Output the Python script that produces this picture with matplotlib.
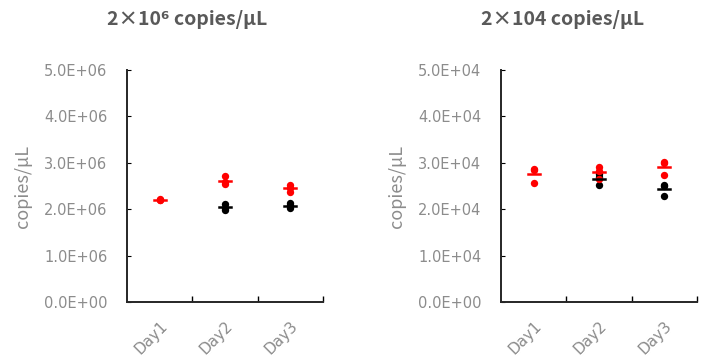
import numpy as np
import matplotlib.pyplot as plt
from matplotlib.ticker import FixedLocator, FuncFormatter

plt.rcParams['font.family'] = ['Noto Sans CJK JP', 'DejaVu Sans']

# ---- data ----
days = ['Day1', 'Day2', 'Day3']

# 2x10^6 copies/uL panel (values in copies/uL)
hi_red = [[2.22e6, 2.20e6, 2.20e6],
          [2.72e6, 2.58e6, 2.55e6],
          [2.52e6, 2.45e6, 2.38e6]]
hi_black = [[],
            [2.12e6, 2.02e6, 1.98e6],
            [2.13e6, 2.08e6, 2.02e6]]

# 2x10^4 copies/uL panel
lo_red = [[2.87e4, 2.85e4, 2.56e4],
          [2.91e4, 2.83e4, 2.65e4],
          [3.02e4, 3.00e4, 2.74e4]]
lo_black = [[],
            [2.75e4, 2.70e4, 2.52e4],
            [2.52e4, 2.50e4, 2.28e4]]

titles = ['2×10⁶ copies/μL', '2×104 copies/μL']
ymax = [5e6, 5e4]
ystep = [1e6, 1e4]
grey = '#8c8c8c'


def sci(v, pos):
    return '%.1E' % v


def draw(ax, red, black, top, step, title, tx):
    for i, vals in enumerate(black):
        if len(vals):
            ax.scatter([i + 1] * len(vals), vals, s=28, color='black', zorder=3, linewidths=0)
            ax.plot([i + 1 - 0.09, i + 1 + 0.09], [np.mean(vals)] * 2, color='black', lw=1.8, zorder=4)
    for i, vals in enumerate(red):
        ax.scatter([i + 1] * len(vals), vals, s=28, color='#ff0000', zorder=3, linewidths=0)
        ax.plot([i + 1 - 0.09, i + 1 + 0.09], [np.mean(vals)] * 2, color='#ff0000', lw=1.8, zorder=4)
    ax.set_xlim(0.5, 3.5)
    ax.set_ylim(0, top)
    ax.set_yticks(np.arange(0, top + step / 2, step))
    ax.yaxis.set_major_formatter(FuncFormatter(sci))
    ax.set_xticks([1, 2, 3])
    ax.set_xticklabels(days, rotation=45, ha='right', rotation_mode='anchor')
    ax.xaxis.set_minor_locator(FixedLocator([1.5, 2.5, 3.5]))
    ax.tick_params(axis='x', which='major', length=0, labelcolor=grey, pad=12,
                   labelsize=11, labelfontfamily='DejaVu Sans')
    ax.tick_params(axis='x', which='minor', length=4, direction='in', width=1)
    ax.tick_params(axis='y', length=3, direction='in', color='black', labelcolor=grey,
                   pad=14, labelsize=10.5, labelfontfamily='DejaVu Sans')
    for sp in ['top', 'right']:
        ax.spines[sp].set_visible(False)
    for sp in ['left', 'bottom']:
        ax.spines[sp].set_linewidth(1.4)
        ax.spines[sp].set_color('#262626')
    ax.set_ylabel('copies/μL', color=grey, fontsize=13, labelpad=9)
    fig.text(tx, 0.945, title, ha='center', va='center', fontsize=14,
             fontweight='bold', color='#595959')


fig = plt.figure(figsize=(7.07, 3.58), dpi=100)
ax1 = fig.add_axes([127 / 707, 1 - 302 / 358, 196 / 707, 232 / 358])
ax2 = fig.add_axes([501 / 707, 1 - 302 / 358, 196 / 707, 232 / 358])

draw(ax1, hi_red, hi_black, ymax[0], ystep[0], titles[0], 187 / 707)
draw(ax2, lo_red, lo_black, ymax[1], ystep[1], titles[1], 563 / 707)

fig.savefig('out.png', dpi=100)
